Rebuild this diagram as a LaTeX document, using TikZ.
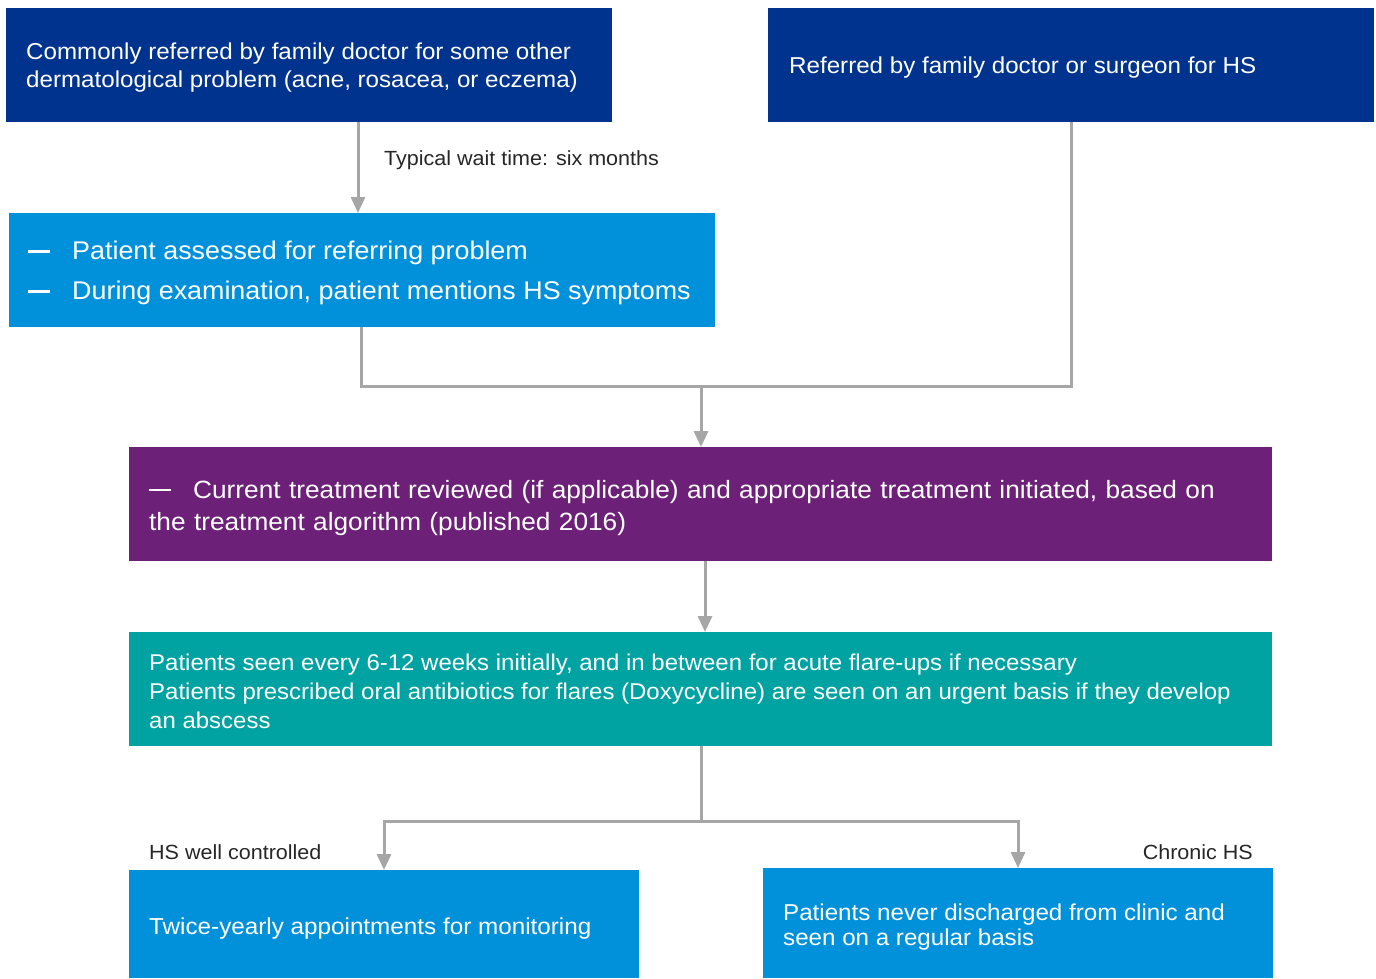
\documentclass[tikz,border=0pt]{standalone}
\usepackage{fontspec}
\setmainfont[FakeStretch=1.05]{Liberation Sans}
\usetikzlibrary{arrows.meta}
\definecolor{navy}{RGB}{0,51,141}
\definecolor{skyblue}{RGB}{0,145,218}
\definecolor{plum}{RGB}{109,32,119}
\definecolor{teal}{RGB}{0,163,161}
\definecolor{linegray}{RGB}{166,166,166}
\tikzset{
  box/.style={draw=none, rectangle, inner sep=0pt, anchor=north west},
  txt/.style={text=white, anchor=west, inner sep=0pt, align=left},
  lbl/.style={text=black!85, inner sep=0pt, font=\fontsize{20.5}{24}\selectfont},
  conn/.style={draw=linegray, line width=3pt},
  arr/.style={conn, -{Triangle[width=14pt,length=16pt]}},
}
% list marker: a short thick bar
\newcommand{\bulletdash}{\makebox[44pt][l]{\rule[7pt]{22pt}{2.6pt}}}
\begin{document}
\begin{tikzpicture}[x=1pt,y=-1pt]
\useasboundingbox (0,0) rectangle (1376,978);

% boxes
\node[box, fill=navy, minimum width=606pt, minimum height=114pt] (b1) at (6,8) {};
\node[box, fill=navy, minimum width=606pt, minimum height=114pt] (b2) at (768,8) {};
\node[box, fill=skyblue, minimum width=706pt, minimum height=114pt] (b3) at (9,213) {};
\node[box, fill=plum, minimum width=1143pt, minimum height=114pt] (b4) at (129,447) {};
\node[box, fill=teal, minimum width=1143pt, minimum height=114pt] (b5) at (129,632) {};
\node[box, fill=skyblue, minimum width=510pt, minimum height=108pt] (b6) at (129,870) {};
\node[box, fill=skyblue, minimum width=510pt, minimum height=110pt] (b7) at (763,868) {};

% box texts
\node[txt, font=\fontsize{23}{28}\selectfont] (t1) at (26,68)
  {Commonly referred by family doctor for some other\\dermatological problem (acne, rosacea, or eczema)};
\node[txt, font=\fontsize{23}{28}\selectfont] (t2) at (789,68)
  {Referred by family doctor or surgeon for HS};
\node[txt, font=\fontsize{25.6}{40}\selectfont] (t3) at (28,273)
  {\bulletdash Patient assessed for referring problem\\\bulletdash During examination, patient mentions HS symptoms};
\node[txt, font=\fontsize{25}{32}\selectfont, text width=1100pt] (t4) at (149,508)
  {\bulletdash Current treatment reviewed (if applicable) and appropriate treatment initiated, based on\\the treatment algorithm (published 2016)};
\node[txt, font=\fontsize{22.85}{29}\selectfont] (t5) at (149,691)
  {Patients seen every 6-12 weeks initially, and in between for acute flare-ups if necessary\\Patients prescribed oral antibiotics for flares (Doxycycline) are seen on an urgent basis if they develop\\an abscess};
\node[txt, font=\fontsize{23.1}{25}\selectfont] (t6) at (149,929)
  {Twice-yearly appointments for monitoring};
\node[txt, font=\fontsize{23}{25}\selectfont] (t7) at (783,927)
  {Patients never discharged from clinic and\\seen on a regular basis};

% labels
\node[lbl, anchor=west] (l1) at (384,160) {Typical wait time: six months};
\node[lbl, anchor=west] (l2) at (149,852) {HS well controlled};
\node[lbl, anchor=east] (l3) at (1253,852) {Chronic HS};

% junction points
\coordinate (j1) at (701,386);
\coordinate (j2) at (701,821);

% connectors
\draw[arr] (b1.south -| 358,0) -- (b3.north -| 358,0);
\draw[conn] (b3.south -| 361,0) |- (j1) -| (b2.south -| 1071,0);
\draw[arr] (j1) -- (b4.north -| j1);
\draw[arr] (b4.south -| 705,0) -- (b5.north -| 705,0);
\draw[conn] (b5.south -| j2) -- (j2);
\draw[arr] (j2) -| (b6.north -| 384,0);
\draw[arr] (j2) -| (b7.north -| 1018,0);
\end{tikzpicture}
\end{document}
